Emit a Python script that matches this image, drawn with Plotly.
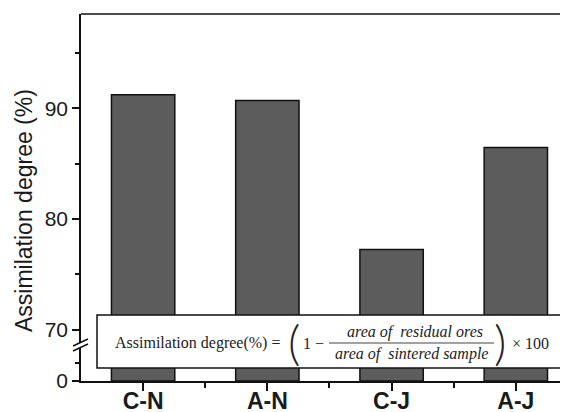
import plotly.graph_objects as go

categories = ["C-N", "A-N", "C-J", "A-J"]
assimilation = [91.25, 90.73, 77.25, 86.47]
upper_ticks = [70, 80, 90]
upper_minor = [75, 85, 95]
lower_ticks = [0]
lower_minor = [5]

# the page body has an 8px margin; lay the figure out in reference pixels
OFF = 8
W_FIG, H_FIG = 568 - OFF, 412 - OFF
L, R, T, B = 81, 568, 14, 381  # reference pixel frame
PW, PH = R - L, B - T


def px(x):
    return (x - L) / PW


def py(y):
    return (B - y) / PH


BREAK_Y = 345
xs = list(range(len(categories)))
BAR_COLOR = "#5c5c5c"

fig = go.Figure()
for ax in ["y", "y2"]:
    fig.add_trace(go.Bar(
        x=xs, y=assimilation, yaxis=ax, xaxis="x",
        marker=dict(color=BAR_COLOR, line=dict(color="#111", width=1.5)),
        width=0.51, showlegend=False,
    ))

axis_font = dict(family="Liberation Sans, Arial, sans-serif", size=21, color="#1a1a1a")

fig.update_layout(
    width=W_FIG, height=H_FIG,
    margin=dict(l=L - OFF, r=W_FIG - (R - OFF), t=T - OFF, b=H_FIG - (B - OFF)),
    paper_bgcolor="white", plot_bgcolor="white",
    xaxis=dict(
        range=[-0.5, 3.42], anchor="y", automargin=False,
        tickmode="array", tickvals=xs, ticktext=[f"<b>{c}</b>" for c in categories],
        ticks="outside", ticklen=8, tickwidth=1.5, tickcolor="#111",
        ticklabelstandoff=-9,
        minor=dict(tickmode="array", tickvals=[0.5, 1.5, 2.5], ticks="outside",
                   ticklen=5, tickwidth=1.5, tickcolor="#111"),
        showline=True, linecolor="#111", linewidth=1.5,
        showgrid=False, zeroline=False,
        tickfont=dict(family="Liberation Sans, Arial, sans-serif", size=23, color="#1a1a1a"),
    ),
    yaxis=dict(
        domain=[0, py(BREAK_Y)], range=[0, 10], anchor="x", automargin=False,
        tickmode="array", tickvals=lower_ticks,
        ticks="outside", ticklen=7, tickwidth=1.5, tickcolor="#111",
        minor=dict(tickmode="array", tickvals=lower_minor, ticks="outside",
                   ticklen=4, tickwidth=1.5, tickcolor="#111"),
        showline=True, linecolor="#111", linewidth=1.5,
        showgrid=False, zeroline=False, tickfont=axis_font,
    ),
    yaxis2=dict(
        domain=[py(BREAK_Y), 1], range=[68.6, 98.55], anchor="x", automargin=False,
        tickmode="array", tickvals=upper_ticks,
        ticks="outside", ticklen=7, tickwidth=1.5, tickcolor="#111",
        minor=dict(tickmode="array", tickvals=upper_minor, ticks="outside",
                   ticklen=4, tickwidth=1.5, tickcolor="#111"),
        showline=True, linecolor="#111", linewidth=1.5,
        showgrid=False, zeroline=False, tickfont=axis_font,
    ),
)

shapes = []
# top frame line
shapes.append(dict(type="line", xref="paper", yref="paper", x0=0, x1=1, y0=1, y1=1,
                   line=dict(color="#111", width=1.5)))
# axis break marks
gap = (f"M {px(73)} {py(346)} L {px(88)} {py(339)} L {px(88)} {py(344)} "
       f"L {px(73)} {py(351)} Z")
shapes.append(dict(type="path", xref="paper", yref="paper", path=gap,
                   fillcolor="white", line=dict(width=0)))
for (y_left, y_right) in [(346, 339), (351, 344)]:
    shapes.append(dict(type="line", xref="paper", yref="paper",
                       x0=px(73), y0=py(y_left), x1=px(88), y1=py(y_right),
                       line=dict(color="#111", width=1.5)))
# formula box
shapes.append(dict(type="rect", xref="paper", yref="paper",
                   x0=px(97), x1=px(563), y0=py(368), y1=py(315),
                   fillcolor="white", line=dict(color="#111", width=1.5), layer="above"))
# fraction bar
shapes.append(dict(type="line", xref="paper", yref="paper",
                   x0=px(329), x1=px(494), y0=py(343), y1=py(343),
                   line=dict(color="#444", width=1.2)))
fig.update_layout(shapes=shapes)

serif = "Liberation Serif, Times New Roman, serif"
ann = []
ann.append(dict(text="Assimilation degree (%)", textangle=-90,
                xref="paper", yref="paper", x=px(24), y=py(211),
                showarrow=False, xanchor="center", yanchor="middle",
                font=dict(family="Liberation Sans, Arial, sans-serif", size=23, color="#1a1a1a")))
formula_parts = [
    ("Assimilation degree(%) =", 113, 343, 16, "left", False, serif, None),
    ("(", 294, 341, 48, "center", False, "Lato, Noto Sans, sans-serif", 300),
    ("1 −", 301, 343, 16, "left", False, serif, None),
    ("area of  residual ores", 415, 332, 16, "center", True, serif, None),
    ("area of  sintered sample", 411, 354, 16, "center", True, serif, None),
    (")", 500, 341, 48, "center", False, "Lato, Noto Sans, sans-serif", 300),
    ("× 100", 510, 343, 16, "left", False, serif, None),
]
for text, x, y, size, anchor, italic, fam, weight in formula_parts:
    font = dict(family=fam, size=size, color="#222")
    if weight:
        font["weight"] = weight
    ann.append(dict(text=f"<i>{text}</i>" if italic else text,
                    xref="paper", yref="paper", x=px(x), y=py(y),
                    showarrow=False, xanchor=anchor, yanchor="middle",
                    font=font))
fig.update_layout(annotations=ann)

fig.write_html("out.html")
